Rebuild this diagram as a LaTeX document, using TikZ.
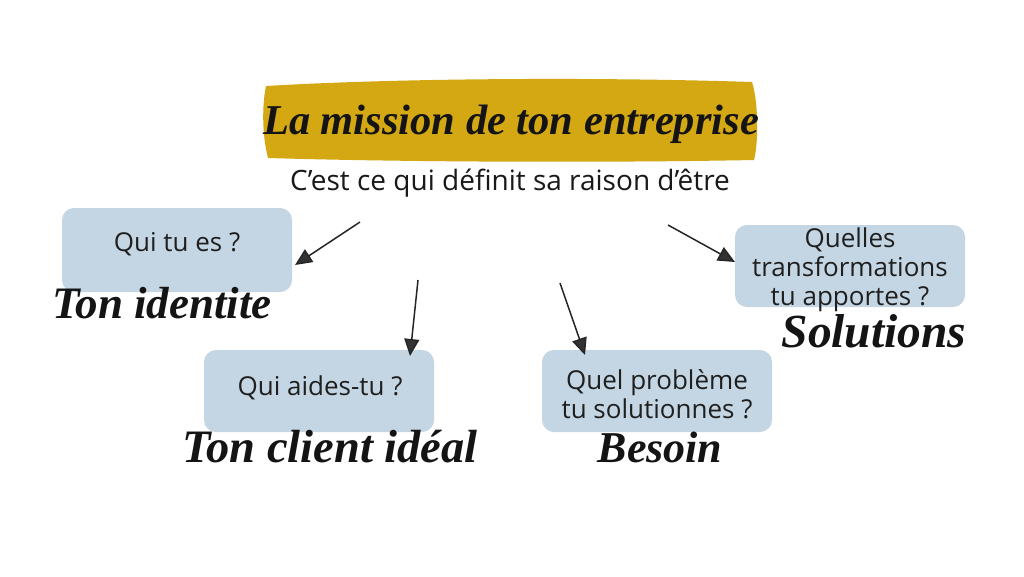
\documentclass[tikz,border=0pt]{standalone}
\usepackage{fontspec}
\setmainfont{Open Sans}
\newfontfamily\brush{Liberation Serif}[BoldItalicFont={* Bold Italic}]
\usetikzlibrary{arrows.meta}
\definecolor{mustard}{RGB}{212,168,18}
\definecolor{paleblue}{RGB}{196,214,227}
\newcommand{\brushsize}[1]{\brush\bfseries\itshape\fontsize{#1}{#1}\selectfont}
\tikzset{
  x=1pt,y=-1pt,
  qbox/.style={fill=paleblue,rounded corners=12pt,draw=none},
  qtext/.style={font=\fontsize{26}{29}\selectfont,align=center,text=black!88,inner sep=0pt},
  brushtxt/.style={text=black!92,inner sep=0pt},
  sketch/.style={draw=black!85,line width=1.5pt,-{Triangle[width=15pt,length=17pt,fill=black!80]}}
}
\begin{document}
\begin{tikzpicture}
\useasboundingbox[fill=white] (0,0) rectangle (1024,576);
% yellow blob
\fill[mustard] (266,86) .. controls (400,78) and (600,77) .. (752,82)
  .. controls (758,100) and (759,140) .. (754,160)
  .. controls (600,163) and (400,162) .. (268,158)
  .. controls (262,135) and (262,105) .. (266,86) -- cycle;
\node[brushtxt,font=\brushsize{42.5}] (title) at (511,124) {La mission de ton entreprise};
\node[font=\fontsize{28}{32}\selectfont,text=black!90,inner sep=0pt] (sub) at (510,183) {C’est ce qui définit sa raison d’être};
% boxes
\fill[qbox] (62,208) rectangle (292,292);
\node[qtext] (q1) at (177,244) {Qui tu es ?};
\node[brushtxt,font=\brushsize{45}] (l1) at (162,303) {Ton identite};

\fill[qbox] (204,350) rectangle (434,432);
\node[qtext] (q2) at (320,388) {Qui aides-tu ?};
\node[brushtxt,font=\brushsize{46.5}] (l2) at (330,447) {Ton client idéal};

\fill[qbox] (542,350) rectangle (772,432);
\node[qtext] (q3) at (657,394) {Quel problème\\tu solutionnes ?};
\node[brushtxt,font=\brushsize{44}] (l3) at (660,447) {Besoin};

\fill[qbox] (735,225) rectangle (965,307);
\node[qtext] (q4) at (850,270) {Quelles\\transformations\\tu apportes ?};
\node[brushtxt,font=\brushsize{47.5}] (l4) at (874,331) {Solutions};
% arrows
\coordinate (a1s) at (360,222); \coordinate (a1e) at (295,265);
\coordinate (a2s) at (418,280); \coordinate (a2e) at (410,356);
\coordinate (a3s) at (560,283); \coordinate (a3e) at (585,355);
\coordinate (a4s) at (668,225); \coordinate (a4e) at (735,262);
\draw[sketch] (a1s) -- (a1e);
\draw[sketch] (a2s) -- (a2e);
\draw[sketch] (a3s) -- (a3e);
\draw[sketch] (a4s) -- (a4e);
\end{tikzpicture}
\end{document}
